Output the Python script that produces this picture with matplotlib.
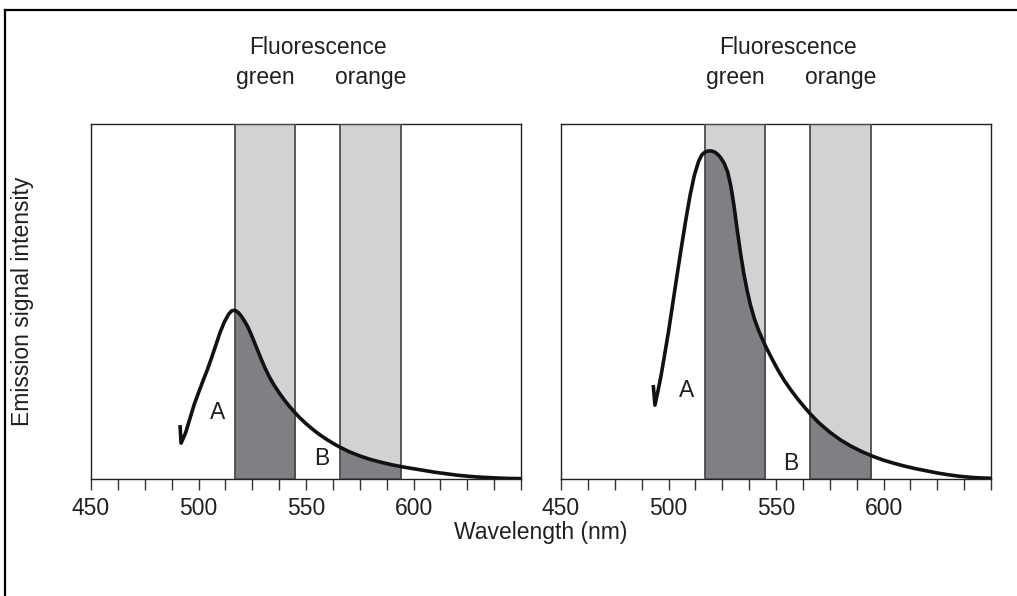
import matplotlib
matplotlib.use("Agg")
import matplotlib.pyplot as plt
from matplotlib.patches import Rectangle
from matplotlib.lines import Line2D

plt.rcParams['font.family'] = ['Liberation Sans', 'DejaVu Sans']

# ---- data ----
left_nm = [491.4, 491.9, 494.0, 496.0, 498.0, 500.0, 502.0, 504.0, 506.0, 508.0, 510.0,
           512.0, 514.0, 515.5, 517.0, 518.5, 520.0, 521.5, 523.0, 525.0, 527.0, 529.0,
           531.0, 533.0, 535.0, 537.5, 540.0, 542.5, 545.0, 547.5, 550.0, 552.5, 555.0,
           557.5, 560.0, 563.0, 566.0, 570.0, 575.0, 580.0, 585.0, 590.0, 595.0, 600.0,
           605.0, 610.0, 615.0, 620.0, 625.0, 630.0, 635.0, 640.0, 645.0, 650.0]
left_int = [15.2, 10.1, 13.0, 17.0, 21.0, 24.3, 27.5, 30.6, 34.0, 37.6, 41.2,
            44.2, 46.4, 47.4, 47.5, 46.9, 45.8, 44.4, 42.8, 40.0, 37.0, 34.0,
            31.2, 28.7, 26.6, 24.3, 22.2, 20.3, 18.6, 17.0, 15.6, 14.3, 13.1,
            12.0, 11.0, 9.9, 8.9, 7.7, 6.5, 5.5, 4.7, 4.0, 3.4, 2.9,
            2.4, 1.9, 1.5, 1.1, 0.8, 0.55, 0.4, 0.25, 0.15, 0.1]

right_nm = [492.9, 493.7, 495.0, 496.5, 498.0, 500.0, 502.0, 504.0, 506.0, 508.0, 510.0,
            512.0, 514.0, 515.5, 517.0, 518.5, 520.0, 521.5, 523.0, 524.5, 526.0, 527.5,
            529.0, 530.5, 532.0, 533.5, 535.0, 536.5, 538.0, 540.0, 542.0, 545.0, 548.0,
            551.0, 554.0, 557.0, 560.0, 563.0, 566.0, 570.0, 575.0, 580.0, 585.0, 590.0,
            595.0, 600.0, 605.0, 610.0, 615.0, 620.0, 625.0, 630.0, 635.0, 640.0, 645.0,
            650.0]
right_int = [26.5, 20.8, 24.5, 29.0, 34.3, 41.5, 49.5, 57.5, 65.3, 72.8, 79.8,
             85.5, 89.5, 91.3, 92.1, 92.4, 92.4, 92.1, 91.4, 90.3, 88.8, 86.5,
             82.5, 76.8, 70.0, 63.6, 58.0, 53.3, 49.3, 45.0, 41.7, 37.6, 34.0,
             30.6, 27.6, 25.0, 22.6, 20.4, 18.3, 15.8, 13.2, 11.0, 9.2, 7.7,
             6.4, 5.3, 4.4, 3.6, 2.9, 2.3, 1.7, 1.2, 0.8, 0.5, 0.3,
             0.2]

bands = {"green": (517, 545), "orange": (566, 594)}
xticks_major = [450, 500, 550, 600]
xticks_minor = [450 + 12.5 * i for i in range(17)]

FS = 16.5
W, H = 1017, 596
fig = plt.figure(figsize=(W / 100, H / 100), dpi=100)

ax_l = fig.add_axes([91 / W, 1 - 479 / H, 430 / W, 355 / H])
ax_r = fig.add_axes([561 / W, 1 - 479 / H, 430 / W, 355 / H])

panels = [
    (ax_l, left_nm, left_int, (509, 18.6), (557.4, 5.9)),
    (ax_r, right_nm, right_int, (508.6, 25.0), (557.0, 4.5)),
]

for ax, xs, ys, posA, posB in panels:
    ax.set_xlim(450, 650)
    ax.set_ylim(0, 100)
    for name, (b0, b1) in bands.items():
        rect = Rectangle((b0, 0), b1 - b0, 100, facecolor='#d1d2d4',
                         edgecolor='none', zorder=1)
        ax.add_patch(rect)
        fill = ax.fill_between(xs, ys, 0, color='#7f8084', lw=0, zorder=2)
        fill.set_clip_path(rect)
        ax.add_patch(Rectangle((b0, 0), b1 - b0, 100, facecolor='none',
                               edgecolor='#4d4d4f', lw=1.3, zorder=3))
        ax.text((b0 + b1) / 2, 111.3, name, ha='center', va='baseline',
                fontsize=FS, color='#231f20', clip_on=False)
    ax.text((bands["green"][0] + bands["orange"][1]) / 2, 119.8, "Fluorescence",
            ha='center', va='baseline', fontsize=FS, color='#231f20', clip_on=False)
    ax.plot(xs, ys, color='#111111', lw=2.6, zorder=4, solid_capstyle='butt',
            solid_joinstyle='round')
    ax.text(posA[0], posA[1], "A", ha='center', va='center', fontsize=FS, color='#231f20')
    ax.text(posB[0], posB[1], "B", ha='center', va='center', fontsize=FS, color='#231f20')

    ax.set_xticks(xticks_minor, minor=True)
    ax.set_xticks(xticks_major)
    ax.set_xticklabels([str(t) for t in xticks_major], fontsize=FS, color='#231f20')
    ax.tick_params(axis='x', which='both', direction='out', length=8, width=1,
                   color='#333333', pad=5)
    ax.set_yticks([])
    for s in ax.spines.values():
        s.set_color('#222222')
        s.set_linewidth(1.0)

fig.text(23 / W, 1 - 301 / H, "Emission signal intensity", rotation=90,
         ha='center', va='center', fontsize=FS, color='#231f20')
fig.text(541 / W, 1 - 532 / H, "Wavelength (nm)", ha='center', va='center',
         fontsize=FS, color='#231f20')

# outer frame (top and left edges)
fig.add_artist(Line2D([5 / W, 5 / W], [0, 1 - 10 / H], transform=fig.transFigure,
                      color='black', lw=1.6))
fig.add_artist(Line2D([5 / W, 1], [1 - 10 / H, 1 - 10 / H], transform=fig.transFigure,
                      color='black', lw=1.6))

fig.savefig("out.png", dpi=100)
